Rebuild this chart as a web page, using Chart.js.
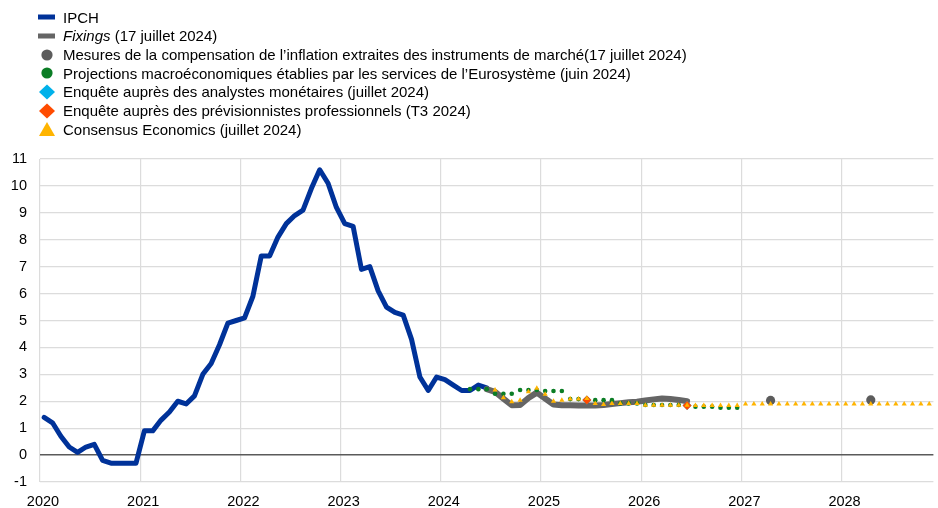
<!DOCTYPE html>
<html lang="fr">
<head>
<meta charset="utf-8">
<title>IPCH et anticipations d'inflation</title>
<script src="https://cdn.jsdelivr.net/npm/chart.js@4.4.1/dist/chart.umd.min.js"></script>
<style>
    html, body { margin: 0; padding: 0; background: #fff; }
    #wrap { position: relative; width: 938px; height: 508px; font-family: "Liberation Sans", Arial, sans-serif; }
    #chart { position: absolute; left: 0; top: 0; }
    #legende { position: absolute; left: 36px; top: 8px; font-size: 15px; color: #000; }
    #legende .row { display: flex; align-items: center; height: 18.67px; white-space: nowrap; }
    #legende svg { width: 22px; height: 18px; margin-right: 5px; flex: none; }
</style>
</head>
<body>
<div id="wrap">
    <canvas id="chart" width="938" height="508"></canvas>
    <div id="legende"></div>
</div>
<script>
// Axe des abscisses : mois depuis janvier 2020 (0 = janv. 2020)
const annees = ['2020', '2021', '2022', '2023', '2024', '2025', '2026', '2027', '2028'];
const ticksY = [-1, 0, 1, 2, 3, 4, 5, 6, 7, 8, 9, 10, 11];

// IPCH, glissement annuel (%), janv. 2020 - juin 2024
const debutIpch = 0;
const ipch = [
    1.4, 1.2, 0.7, 0.3, 0.1, 0.3, 0.4, -0.2, -0.3, -0.3, -0.3, -0.3,
    0.9, 0.9, 1.3, 1.6, 2.0, 1.9, 2.2, 3.0, 3.4, 4.1, 4.9, 5.0,
    5.1, 5.9, 7.4, 7.4, 8.1, 8.6, 8.9, 9.1, 9.9, 10.6, 10.1, 9.2,
    8.6, 8.5, 6.9, 7.0, 6.1, 5.5, 5.3, 5.2, 4.3, 2.9, 2.4, 2.9,
    2.8, 2.6, 2.4, 2.4, 2.6, 2.5
];

// Fixings (17 juillet 2024), juin 2024 - juin 2026
const debutFixings = 53;
const fixings = [
    2.45, 2.35, 2.1, 1.85, 1.86, 2.12, 2.32, 2.1, 1.88, 1.85,
    1.85, 1.84, 1.84, 1.84, 1.86, 1.9, 1.93, 1.96, 1.98, 2.03,
    2.07, 2.1, 2.08, 2.05, 2.0
];

// Projections de l'Eurosystème (juin 2024), avr. 2024 - déc. 2026
const debutProjections = 51;
const projections = [
    2.45, 2.45, 2.45, 2.28, 2.28, 2.28, 2.42, 2.42, 2.42, 2.38, 2.38,
    2.38, 2.08, 2.08, 2.08, 2.04, 2.04, 2.04, 1.92, 1.92, 1.92, 1.86,
    1.86, 1.86, 1.86, 1.86, 1.86, 1.8, 1.8, 1.8, 1.76, 1.76, 1.76
];

// Consensus Economics (juillet 2024), juil. 2024 - nov. 2028
const debutConsensus = 54;
const consensus = [
    2.42, 2.13, 1.98, 2.04, 2.35, 2.48, 2.26, 2.0, 2.04, 2.08, 2.08, 2.1,
    1.92, 1.88, 1.92, 1.92, 1.92, 1.92, 1.85, 1.85, 1.85, 1.85, 1.85, 1.85,
    1.84, 1.84, 1.84, 1.84, 1.84, 1.84, 1.9, 1.9, 1.9, 1.9, 1.9, 1.9,
    1.9, 1.9, 1.9, 1.9, 1.9, 1.9, 1.9, 1.9, 1.9, 1.9, 1.9, 1.9,
    1.9, 1.9, 1.9, 1.9, 1.9
];

// Mesures de marché (17 juillet 2024)
const moisMarche = [87, 99];
const marche = [2.03, 2.05];

// Enquête SPF (T3 2024)
const moisSpf = [65, 77];
const spf = [2.05, 1.84];

// Enquête SMA (juillet 2024)
const moisSma = [65, 77];
const sma = [2.05, 1.84];

const couleurs = {
    ipch: '#003299',
    fixings: '#656565',
    marche: '#5c5c5c',
    projections: '#0b7d25',
    sma: '#00b1ea',
    spf: '#ff4b00',
    consensus: '#ffb400'
};

// Les points mensuels sont placés au milieu du mois
function serie(debut, valeurs) {
    return valeurs.map((v, i) => ({ x: debut + i + 0.5, y: v }));
}

function points(mois, valeurs) {
    return valeurs.map((v, i) => ({ x: mois[i] + 0.5, y: v }));
}

// Légende HTML (police italique pour "Fixings")
const legende = [
    { type: 'ligne', couleur: couleurs.ipch, texte: 'IPCH' },
    { type: 'ligne', couleur: couleurs.fixings, texte: '<i>Fixings</i> (17 juillet 2024)' },
    { type: 'rond', couleur: couleurs.marche, texte: 'Mesures de la compensation de l\u2019inflation extraites des instruments de marché(17 juillet 2024)' },
    { type: 'rond', couleur: couleurs.projections, texte: 'Projections macroéconomiques établies par les services de l\u2019Eurosystème (juin 2024)' },
    { type: 'losange', couleur: couleurs.sma, texte: 'Enquête auprès des analystes monétaires (juillet 2024)' },
    { type: 'losange', couleur: couleurs.spf, texte: 'Enquête auprès des prévisionnistes professionnels (T3 2024)' },
    { type: 'triangle', couleur: couleurs.consensus, texte: 'Consensus Economics (juillet 2024)' }
];

function symbole(type, couleur) {
    let forme = '';
    if (type === 'ligne') forme = `<rect x="2" y="6.5" width="17" height="5" fill="${couleur}"/>`;
    if (type === 'rond') forme = `<circle cx="11" cy="9" r="5.6" fill="${couleur}"/>`;
    if (type === 'losange') forme = `<polygon points="11,1.5 19,9 11,16.5 3,9" fill="${couleur}"/>`;
    if (type === 'triangle') forme = `<polygon points="11,2 19,16 3,16" fill="${couleur}"/>`;
    return `<svg viewBox="0 0 22 18">${forme}</svg>`;
}

document.getElementById('legende').innerHTML = legende
    .map(l => `<div class="row">${symbole(l.type, l.couleur)}<span>${l.texte}</span></div>`)
    .join('');

const police = { family: '"Liberation Sans", Arial, sans-serif', size: 14.5 };

const ctx = document.getElementById('chart').getContext('2d');
const graphique = new Chart(ctx, {
    type: 'line',
    data: {
        datasets: [
            {
                label: 'Consensus Economics',
                data: serie(debutConsensus, consensus),
                showLine: false,
                pointStyle: 'triangle',
                pointRadius: 3,
                backgroundColor: couleurs.consensus,
                borderWidth: 0,
                order: 1
            },
            {
                label: 'SPF',
                data: points(moisSpf, spf),
                showLine: false,
                pointStyle: 'rectRot',
                pointRadius: 4.5,
                backgroundColor: couleurs.spf,
                borderWidth: 0,
                order: 2
            },
            {
                label: 'SMA',
                data: points(moisSma, sma),
                showLine: false,
                pointStyle: 'rectRot',
                pointRadius: 4.5,
                backgroundColor: couleurs.sma,
                borderWidth: 0,
                order: 3
            },
            {
                label: 'Projections Eurosystème',
                data: serie(debutProjections, projections),
                showLine: false,
                pointStyle: 'circle',
                pointRadius: 2.3,
                backgroundColor: couleurs.projections,
                borderWidth: 0,
                order: 4
            },
            {
                label: 'Mesures de marché',
                data: points(moisMarche, marche),
                showLine: false,
                pointStyle: 'circle',
                pointRadius: 4.6,
                backgroundColor: couleurs.marche,
                borderWidth: 0,
                order: 5
            },
            {
                label: 'Fixings',
                data: serie(debutFixings, fixings),
                borderColor: couleurs.fixings,
                borderWidth: 6,
                borderCapStyle: 'round',
                borderJoinStyle: 'round',
                pointRadius: 0,
                tension: 0,
                order: 6
            },
            {
                label: 'IPCH',
                data: serie(debutIpch, ipch),
                borderColor: couleurs.ipch,
                borderWidth: 5,
                borderCapStyle: 'round',
                borderJoinStyle: 'round',
                pointRadius: 0,
                tension: 0,
                order: 7
            }
        ]
    },
    options: {
        responsive: false,
        animation: false,
        layout: { padding: { top: 159, right: 0, bottom: 0, left: 0 } },
        plugins: {
            legend: { display: false },
            tooltip: { enabled: false }
        },
        scales: {
            x: {
                type: 'linear',
                min: 0,
                max: 107,
                afterBuildTicks: scale => {
                    scale.ticks = annees.map((a, i) => ({ value: i * 12 }));
                },
                afterFit: scale => { scale.height = 26; },
                ticks: {
                    callback: (value) => annees[value / 12],
                    color: '#000',
                    font: police,
                    padding: 11,
                    labelOffset: 3,
                    maxRotation: 0
                },
                grid: { color: '#dcdcdc', lineWidth: 1.2, drawTicks: false },
                border: { display: false }
            },
            y: {
                min: -1,
                max: 11,
                afterBuildTicks: scale => {
                    scale.ticks = ticksY.map(v => ({ value: v }));
                },
                afterFit: scale => { scale.width = 40; },
                ticks: {
                    color: '#000',
                    font: police,
                    padding: 13
                },
                grid: {
                    color: c => (c.tick && c.tick.value === 0) ? '#5a5a5a' : '#dcdcdc',
                    lineWidth: c => (c.tick && c.tick.value === 0) ? 1.6 : 1.2,
                    drawTicks: false
                },
                border: { display: false }
            }
        }
    }
});
</script>
</body>
</html>
